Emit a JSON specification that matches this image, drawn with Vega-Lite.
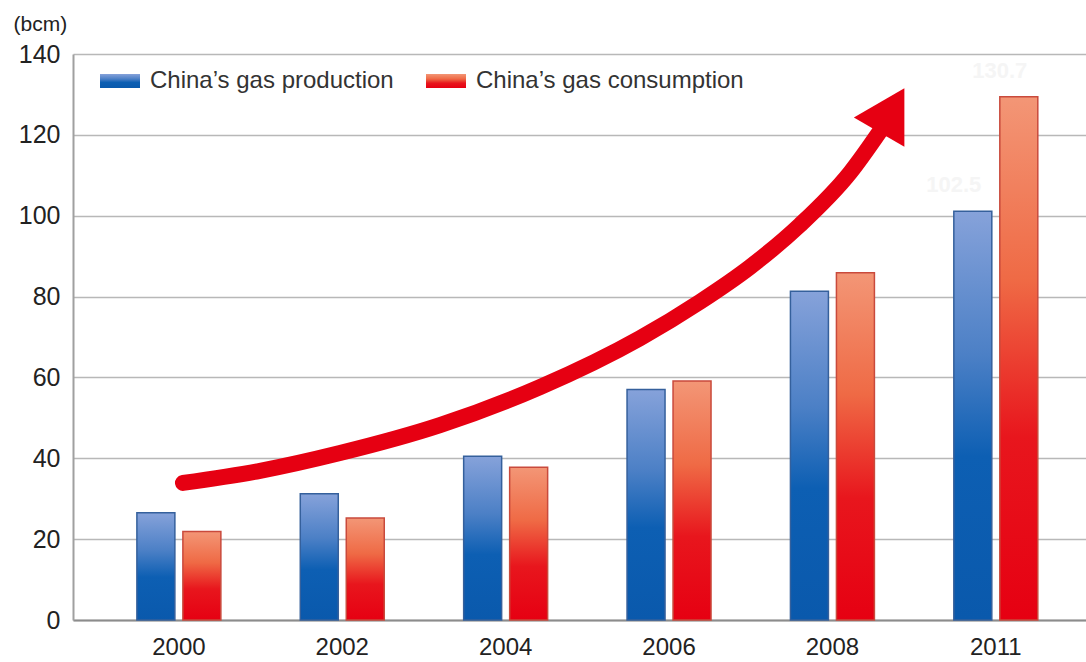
{
  "$schema": "https://vega.github.io/schema/vega-lite/v6.json",
  "width": 1013,
  "height": 566,
  "autosize": {"type": "none"},
  "padding": {"left": 73, "top": 54, "right": 0, "bottom": 42},
  "background": "white",
  "config": {
    "font": "Liberation Sans",
    "view": {"stroke": null}
  },
  "datasets": {
    "gas": [
      {"year": "2000", "series": "China’s gas production", "value": 26.5},
      {"year": "2000", "series": "China’s gas consumption", "value": 21.9},
      {"year": "2002", "series": "China’s gas production", "value": 31.2},
      {"year": "2002", "series": "China’s gas consumption", "value": 25.2},
      {"year": "2004", "series": "China’s gas production", "value": 40.5},
      {"year": "2004", "series": "China’s gas consumption", "value": 37.8},
      {"year": "2006", "series": "China’s gas production", "value": 57.0},
      {"year": "2006", "series": "China’s gas consumption", "value": 59.1},
      {"year": "2008", "series": "China’s gas production", "value": 81.3},
      {"year": "2008", "series": "China’s gas consumption", "value": 85.9},
      {"year": "2011", "series": "China’s gas production", "value": 101.1, "label": "102.5"},
      {"year": "2011", "series": "China’s gas consumption", "value": 129.4, "label": "130.7"}
    ],
    "arrow": [
      {"pos": 0.024, "level": 33.9},
      {"pos": 0.496, "level": 36.9},
      {"pos": 0.985, "level": 41.3},
      {"pos": 1.597, "level": 48.2},
      {"pos": 2.209, "level": 57.6},
      {"pos": 2.821, "level": 69.7},
      {"pos": 3.188, "level": 78.7},
      {"pos": 3.494, "level": 87.3},
      {"pos": 3.800, "level": 97.7},
      {"pos": 4.106, "level": 110.6},
      {"pos": 4.290, "level": 120.9}
    ],
    "head": [
      {"pos": 4.362, "level": 126.1}
    ]
  },
  "layer": [
    {
      "data": {"name": "gas"},
      "layer": [
        {
          "mark": {"type": "bar", "strokeWidth": 1.5},
          "encoding": {
            "x": {
              "field": "year", "type": "nominal", "sort": null,
              "scale": {"paddingInner": 0.486, "paddingOuter": 0.343, "align": 0.57},
              "axis": {
                "title": null, "labelAngle": 0, "labelFontSize": 24, "labelColor": "#222222",
                "labelFont": "Liberation Sans", "labelPadding": 15, "ticks": false,
                "domainColor": "#8c8c8c", "domainWidth": 2
              }
            },
            "xOffset": {
              "field": "series", "type": "nominal",
              "scale": {"domain": ["China’s gas production", "China’s gas consumption"], "paddingInner": 0.174, "paddingOuter": 0}
            },
            "y": {
              "field": "value", "type": "quantitative",
              "scale": {"domain": [0, 140], "nice": false},
              "axis": {
                "values": [0, 20, 40, 60, 80, 100, 120, 140],
                "title": "(bcm)", "titleAngle": 0, "titleAlign": "left", "titleBaseline": "alphabetic",
                "titleX": -60, "titleY": -24, "titleFontSize": 21, "titleFontWeight": "normal",
                "titleColor": "#222222", "titleFont": "Liberation Sans",
                "labelFontSize": 25, "labelColor": "#222222", "labelFont": "Liberation Sans",
                "labelPadding": 13, "ticks": false,
                "grid": true, "gridColor": "#b8b8b8", "gridWidth": 1.5,
                "domainColor": "#a0a0a0", "domainWidth": 2
              }
            },
            "fill": {
              "field": "series", "type": "nominal",
              "scale": {
                "domain": ["China’s gas production", "China’s gas consumption"],
                "range": [
                  {"expr": "{gradient: 'linear', x1: 0, y1: 0, x2: 0, y2: 1, stops: [{offset: 0, color: '#86a2da'}, {offset: 0.35, color: '#4c80c6'}, {offset: 0.6, color: '#0d5fb3'}, {offset: 1, color: '#0a59ac'}]}"},
                  {"expr": "{gradient: 'linear', x1: 0, y1: 0, x2: 0, y2: 1, stops: [{offset: 0, color: '#f39676'}, {offset: 0.35, color: '#ef6a45'}, {offset: 0.65, color: '#e8161d'}, {offset: 1, color: '#e60012'}]}"}
                ]
              },
              "legend": {
                "title": null, "orient": "none", "legendX": 27, "legendY": 7,
                "direction": "horizontal",
                "symbolType": "M-1,-0.35H1V0.35H-1Z", "symbolSize": 1600,
                "symbolStrokeWidth": 0, "symbolOpacity": 1,
                "labelFontSize": 24, "labelColor": "#333333", "labelFont": "Liberation Sans",
                "labelLimit": 0, "labelOffset": 10, "columnPadding": 32, "padding": 0
              }
            },
            "stroke": {
              "field": "series", "type": "nominal",
              "scale": {"domain": ["China’s gas production", "China’s gas consumption"], "range": ["#35609c", "#c94a3c"]},
              "legend": null
            }
          }
        },
        {
          "transform": [{"filter": "datum.label != null"}],
          "mark": {"type": "text", "fontSize": 22, "fontWeight": "bold", "color": "#f5f5f5", "dx": -19, "dy": -26, "baseline": "middle"},
          "encoding": {
            "x": {"field": "year", "type": "nominal", "sort": null},
            "xOffset": {"field": "series", "type": "nominal"},
            "y": {"field": "value", "type": "quantitative"},
            "text": {"field": "label"}
          }
        }
      ]
    },
    {
      "layer": [
        {
          "data": {"name": "arrow"},
          "mark": {"type": "line", "color": "#e60012", "strokeWidth": 16, "strokeCap": "round", "interpolate": "monotone"},
          "encoding": {
            "x": {"field": "pos", "type": "quantitative", "scale": {"domain": [-0.649, 5.551], "nice": false, "zero": false}, "axis": null},
            "y": {"field": "level", "type": "quantitative", "scale": {"domain": [0, 140], "nice": false}}
          }
        },
        {
          "data": {"name": "head"},
          "mark": {"type": "point", "shape": "triangle-up", "size": 3400, "angle": 30, "filled": true, "color": "#e60012", "opacity": 1},
          "encoding": {
            "x": {"field": "pos", "type": "quantitative"},
            "y": {"field": "level", "type": "quantitative"}
          }
        }
      ]
    }
  ],
  "resolve": {"scale": {"x": "independent"}}
}
